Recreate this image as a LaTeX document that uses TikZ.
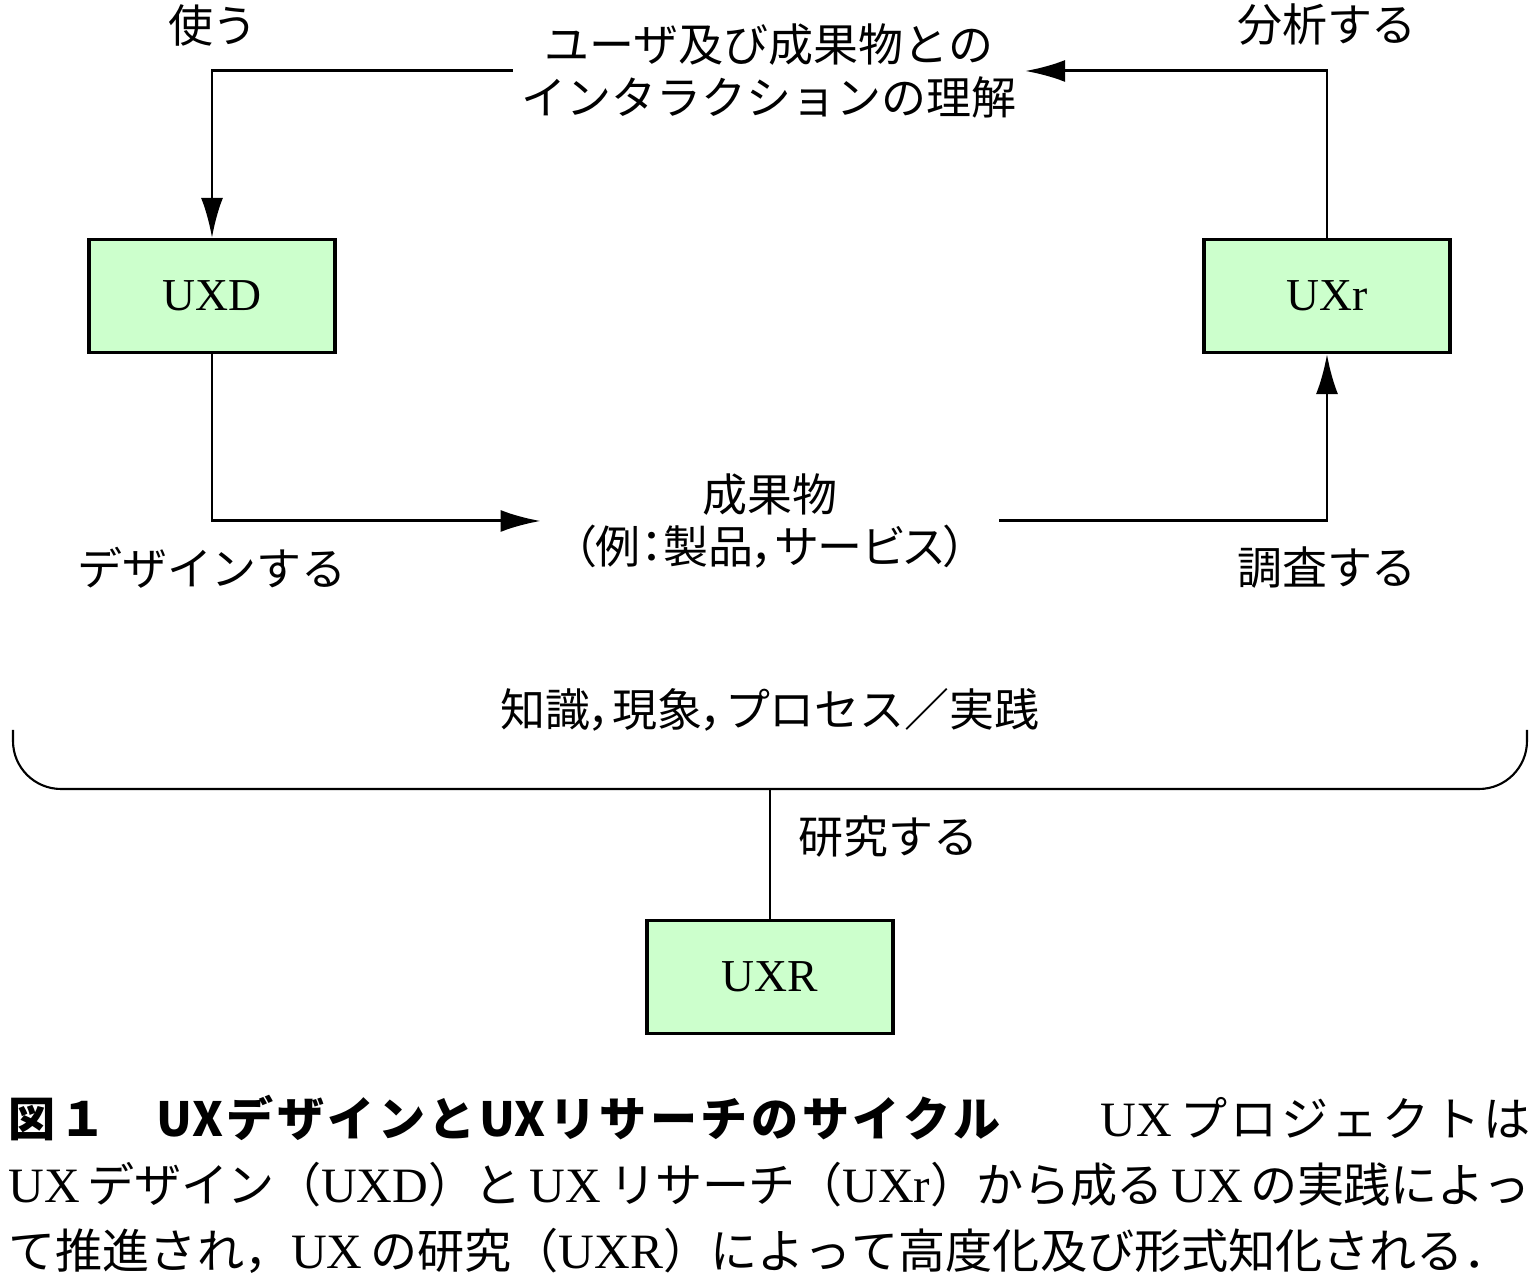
\documentclass[tikz,border=0pt]{standalone}
\usepackage{fontspec}
\setmainfont{Noto Sans CJK JP}
\newfontfamily\latin{Liberation Serif}
\newfontfamily\caplatin[Scale=1.05]{Liberation Serif}
\usepackage{tikz}
\usetikzlibrary{arrows.meta,positioning}
\definecolor{uxgreen}{HTML}{CCFFCC}
\XeTeXlinebreaklocale "ja"
\XeTeXlinebreakskip=0pt plus 1pt minus 0.6pt
\newcommand{\uxlat}[1]{{\caplatin #1}}
\newcommand{\pcomma}{{\addfontfeature{RawFeature=+palt}，}}

\begin{document}
\begin{tikzpicture}[
  >={Latex[length=0.4cm,width=0.22cm]},
  every node/.style={font=\fontsize{12.8}{15}\selectfont},
  box/.style={draw, line width=0.9pt, fill=uxgreen,
              minimum width=2.46cm, minimum height=1.13cm,
              font=\latin\fontsize{13}{15}\selectfont},
  arrow/.style={->, line width=0.85pt},
  txt/.style={align=center, inner xsep=0.28cm}
]
\useasboundingbox (0,0) rectangle (15.4,12.76);

%% Boxes
\node[box] (uxd) at (2.12, 9.80) {UXD};
\node[box] (uxr) at (13.27, 9.80) {UXr};
\node[box] (uxrr) at (7.70, 2.99) {UXR};

%% Middle labels
\node[txt, inner xsep=0.08cm] (ui) at (7.69, 12.05)
  {ユーザ及び成果物との\\インタラクションの理解};
\node[txt, inner xsep=0.32cm] (art) at (7.70, 7.55)
  {成果物\\{\addfontfeature{RawFeature=+palt}（例：製品，サービス）}};

%% Cycle
\draw[arrow] (ui.west) -| (uxd.north);
\draw[arrow] (uxd.south) |- (art.west);
\draw[arrow] (art.east) -| (uxr.south);
\draw[arrow] (uxr.north) |- (ui.east);

%% Verbs
\node (use) at (2.13, 12.51) {使う};
\node (design) at (2.12, 7.08) {デザインする};
\node (analyse) at (13.27, 12.51) {分析する};
\node (survey) at (13.27, 7.08) {調査する};

%% Brace
\node (know) at (7.70, 5.66) {知識\pcomma 現象\pcomma プロセス／実践};
\coordinate (bl) at (0.13, 5.46);
\coordinate (br) at (15.27, 5.46);
\coordinate (bm) at (7.70, 4.87);
\draw[line width=0.6pt, rounded corners=0.48cm]
  (bl) -- (bl |- bm) -- (br |- bm) -- (br);
\draw[line width=0.6pt] (bm) -- (uxrr.north);
\node[anchor=west] (study) at (7.86, 4.40) {研究する};

%% Caption
\node[anchor=north west, text width=15.22cm, align=justify, inner sep=0pt,
      font=\fontsize{13.4}{18.8}\selectfont] (cap) at (0.08, 1.82)
  {{\bfseries 図１　UXデザインとUXリサーチのサイクル}\hspace{1cm}%
   \uxlat{UX}\,プロジェクトは\linebreak
   \uxlat{UX}\,デザイン（\uxlat{UXD}）と\,\uxlat{UX}\,リサーチ（\uxlat{UXr}）から成る\,\uxlat{UX}\,の実践によっ\linebreak
   て推進され，\uxlat{UX}\,の研究（\uxlat{UXR}）によって高度化及び形式知化される．};

\end{tikzpicture}
\end{document}
